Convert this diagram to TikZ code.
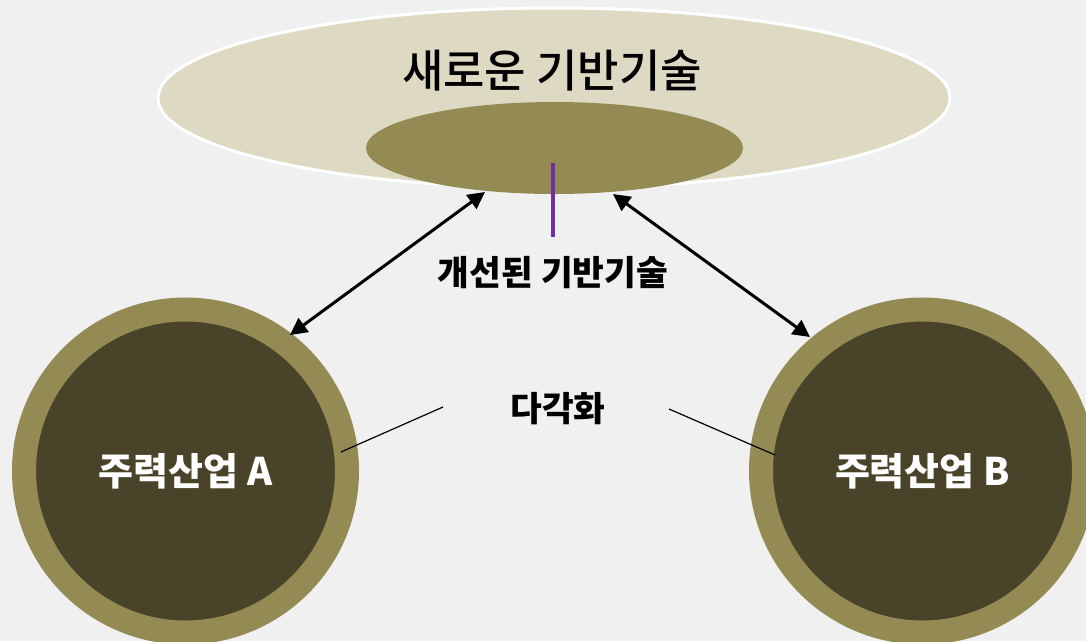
\documentclass[tikz,border=0pt]{standalone}
\usepackage{fontspec}
\setmainfont{Noto Sans CJK KR}
\newfontfamily\titlefont{Noto Sans CJK KR Medium}
\usetikzlibrary{shapes.geometric,arrows.meta}
\definecolor{bg}{HTML}{F0F0F0}
\definecolor{pale}{HTML}{DDD9C3}
\definecolor{olive}{HTML}{948A54}
\definecolor{darkolive}{HTML}{494429}
\definecolor{violet}{HTML}{7030A0}
\tikzset{
  ring/.style={circle, draw=olive, line width=24pt, fill=darkolive, minimum size=323pt, inner sep=0pt,
    text=white, font=\fontsize{38}{40}\selectfont\bfseries},
  dbl/.style={{Triangle[length=17pt,width=17pt]}-{Triangle[length=17pt,width=17pt]}, line width=3pt, black},
  thin/.style={line width=1.2pt, black},
  lbl/.style={font=\fontsize{34.5}{37}\selectfont\bfseries, inner sep=0pt}
}
\begin{document}
\begin{tikzpicture}[x=1pt,y=-1pt]
\fill[bg] (0,0) rectangle (1086,641);
\useasboundingbox (0,0) rectangle (1086,641);
% top ellipses
\node[ellipse, draw=white, line width=3pt, fill=pale, minimum width=792pt, minimum height=180pt, inner sep=0pt] (outer) at (554,98) {};
\node[font=\titlefont\fontsize{45}{48}\selectfont, inner sep=0pt] (title) at (552,71) {새로운 기반기술};
\node[ellipse, fill=olive, minimum width=377pt, minimum height=92pt, inner sep=0pt] (inner) at (554.5,148) {};
% circles
\node[ring] (A) at (185.5,471) {주력산업 A};
\node[ring] (B) at (922.5,471) {주력산업 B};
% labels
\node[lbl] (improved) at (553,273) {개선된 기반기술};
\node[lbl] (diversify) at (558,409) {다각화};
% purple line
\coordinate (p1) at (553,163);
\coordinate (p2) at (553,237);
\draw[violet, line width=3.5pt] (p1) -- (p2);
% arrows
\coordinate (a1) at (485,192);
\coordinate (a2) at (290,335);
\coordinate (b1) at (613,194);
\coordinate (b2) at (810,337);
\draw[dbl] (a1) -- (a2);
\draw[dbl] (b1) -- (b2);
% thin lines
\coordinate (l1) at (443,407);
\coordinate (l2) at (341,452);
\coordinate (r1) at (669,409);
\coordinate (r2) at (775,455);
\draw[thin] (l1) -- (l2);
\draw[thin] (r1) -- (r2);
\end{tikzpicture}
\end{document}
